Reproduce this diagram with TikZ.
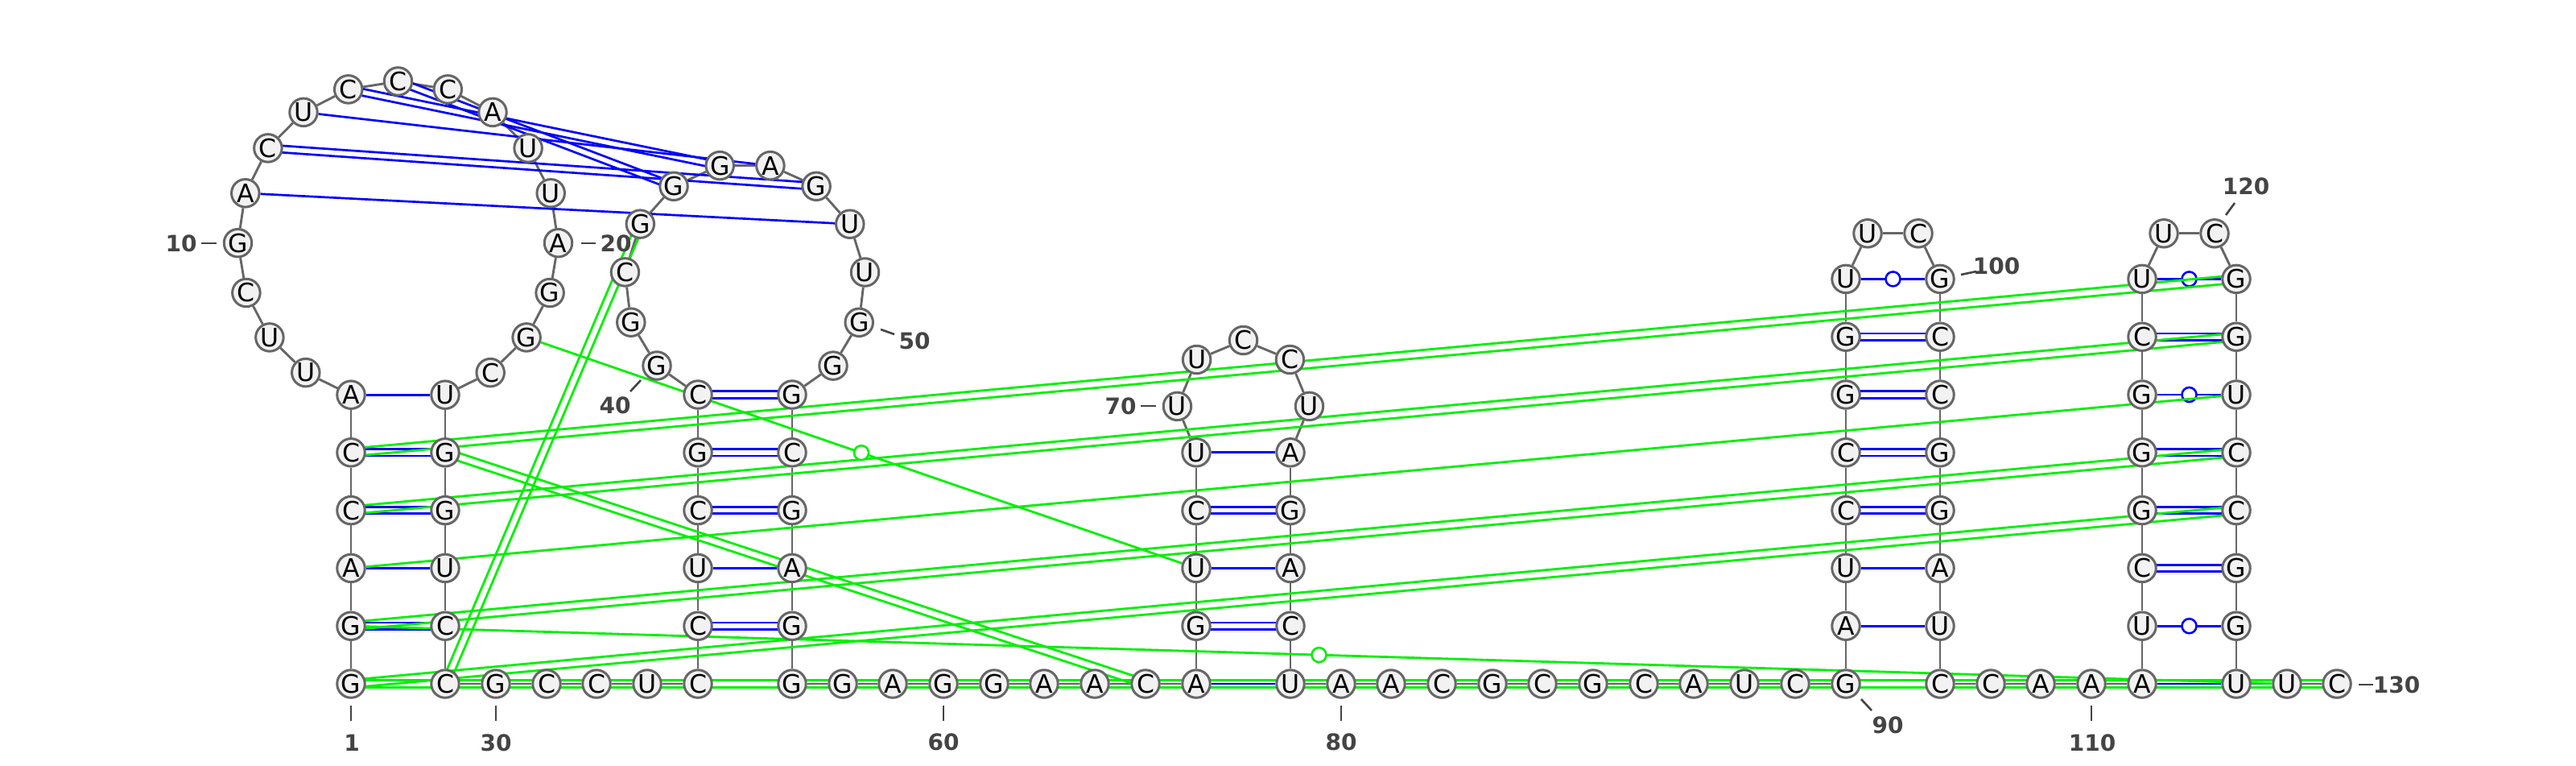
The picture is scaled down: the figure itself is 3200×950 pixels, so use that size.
\documentclass[tikz,border=0pt]{standalone}
\usepackage{fontspec}
\newfontfamily\ntfont{DejaVu Sans}
\newfontfamily\labfont{DejaVu Sans}
\usetikzlibrary{calc}
\pgfdeclarelayer{bg}
\pgfsetlayers{bg,main}
\definecolor{ntfill}{HTML}{F2F2F2}
\definecolor{ntdraw}{HTML}{666666}
\definecolor{bbc}{HTML}{666666}
\definecolor{pblue}{HTML}{0000FF}
\definecolor{pgreen}{HTML}{00F000}
\definecolor{labc}{HTML}{444444}
\tikzset{
  nt/.style={circle, draw=ntdraw, fill=ntfill, line width=3pt, minimum size=34.5pt, inner sep=0pt, font=\ntfont\fontsize{31.5}{31.5}\selectfont},
  bbone/.style={draw=bbc, line width=2.9pt},
  bpair/.style={draw=pblue, line width=2.7pt},
  gpair/.style={draw=pgreen, line width=2.8pt},
  wob/.style={circle, fill=white, line width=2.6pt, minimum size=18pt, inner sep=0pt},
  lab/.style={font=\labfont\bfseries\fontsize{28}{28}\selectfont, text=labc, inner sep=0pt},
  tickl/.style={draw=labc, line width=2.6pt},
}
\newcommand\twolines[4]{%
  \draw[#1] ($(#2)!#4!90:(#3)$) -- ($(#3)!#4!-90:(#2)$);
  \draw[#1] ($(#2)!#4!-90:(#3)$) -- ($(#3)!#4!90:(#2)$);}
\newcommand\bdbl[2]{\twolines{bpair}{#1}{#2}{4.2pt}}
\newcommand\gdbl[2]{\twolines{gpair}{#1}{#2}{4.8pt}}
\begin{document}
\begin{tikzpicture}[x=1pt,y=-1pt]
\useasboundingbox (0,0) rectangle (3200,950);
% nucleotides
\foreach \i/\x/\y/\b in {
1/436/849/G, 2/436/777.2/G, 3/436/705.4/A, 4/436/633.6/C, 5/436/561.8/C, 6/436/490.2/A,
7/379.8/462.6/U, 8/334.9/418.9/U, 9/305.9/363.5/C, 10/295.5/301.7/G, 11/304.8/239.8/A,
12/332.9/183.9/C, 13/377.0/139.4/U, 14/432.7/110.9/C, 15/494.5/101/C, 16/556.3/110.9/C,
17/612.0/139.4/A, 18/656.1/183.9/U, 19/684.2/239.8/U, 20/693.5/301.7/A, 21/683.1/363.5/G,
22/654.1/418.9/G, 23/609.2/462.6/C, 24/553/490.2/U, 25/553/561.8/G, 26/553/633.6/G,
27/553/705.4/U, 28/553/777.2/C, 29/553/849/C, 30/616/849/G, 31/679/849/C, 32/741/849/C,
33/804/849/U, 34/867/849/C, 35/867/777.2/C, 36/867/705.4/U, 37/867/633.6/C, 38/867/561.8/G,
39/867/490/C, 40/816/454/G, 41/783.8/400.2/G, 42/776.4/337.9/C, 43/795.3/278.1/G,
44/837/231.3/G, 45/894.2/205.6/G, 46/956.9/205.6/A, 47/1014.1/231.3/G, 48/1055.8/278.2/U,
49/1074.5/338/U, 50/1067.2/400.3/G, 51/1035/454.1/G, 52/984/490/G, 53/984/561.8/C,
54/984/633.6/G, 55/984/705.4/A, 56/984/777.2/G, 57/984/849/G, 58/1047/849/G, 59/1109/849/A,
60/1172/849/G, 61/1235/849/G, 62/1297/849/A, 63/1360/849/A, 64/1423/849/C, 65/1486/849/A,
66/1486/777.2/G, 67/1486/705.4/U, 68/1486/633.6/C, 69/1486/561.8/U, 70/1462.5/504.4/U,
71/1486.6/446.5/U, 72/1544.5/422.5/C, 73/1602.4/446.5/C, 74/1626.5/504.4/U, 75/1603/561.8/A,
76/1603/633.6/G, 77/1603/705.4/A, 78/1603/777.2/C, 79/1603/849/U, 80/1666/849/A, 81/1728/849/A,
82/1791/849/C, 83/1854/849/G, 84/1916/849/C, 85/1979/849/G, 86/2042/849/C, 87/2104/849/A,
88/2167/849/U, 89/2230/849/C, 90/2293/849/G, 91/2293/777.2/A, 92/2293/705.4/U, 93/2293/633.6/C,
94/2293/561.8/C, 95/2293/490/G, 96/2293/418.2/G, 97/2293/346.4/U, 98/2320/289.8/U, 99/2383/289.8/C,
100/2410/346.4/G, 101/2410/418.2/C, 102/2410/490/C, 103/2410/561.8/G, 104/2410/633.6/G,
105/2410/705.4/A, 106/2410/777.2/U, 107/2410/849/C, 108/2473/849/C, 109/2535/849/A, 110/2598/849/A,
111/2661/849/A, 112/2661/777.2/U, 113/2661/705.4/C, 114/2661/633.6/G, 115/2661/561.8/G,
116/2661/490/G, 117/2661/418.2/C, 118/2661/346.4/U, 119/2688/289.8/U, 120/2751/289.8/C,
121/2778/346.4/G, 122/2778/418.2/G, 123/2778/490/U, 124/2778/561.8/C, 125/2778/633.6/C,
126/2778/705.4/G, 127/2778/777.2/G, 128/2778/849/U, 129/2841/849/U, 130/2903/849/C}
  \node[nt] (n\i) at (\x,\y) {\b};
\begin{pgfonlayer}{bg}
% backbone
\foreach \i [evaluate=\i as \j using int(\i+1)] in {1,...,129}
  \draw[bbone] (n\i) -- (n\j);
% blue pairs
\foreach \a/\b in {3/27, 6/24, 11/48, 13/46, 36/55, 65/79, 67/77, 69/75, 91/106, 92/105, 111/128}
  \draw[bpair] (n\a) -- (n\b);
\foreach \a/\b in {2/28, 4/26, 5/25, 12/47, 14/45, 15/44, 35/56, 37/54, 38/53, 39/52, 66/78, 68/76,
  93/104, 94/103, 95/102, 96/101, 113/126, 114/125, 115/124, 117/122}
  {\bdbl{n\a}{n\b}}
\foreach \a/\b in {97/100, 112/127, 116/123, 118/121}
  \draw[bpair] (n\a) -- node[wob, draw=pblue] {} (n\b);
% green pairs
\foreach \a/\b in {5/121, 4/122, 2/124, 1/125, 1/130, 25/64, 29/43}
  {\gdbl{n\a}{n\b}}
\draw[gpair] (n3) -- (n123);
\draw[gpair] (n22) -- node[wob, draw=pgreen] {} (n67);
\draw[gpair] (n2) -- node[wob, draw=pgreen] {} (n129);
\end{pgfonlayer}
% numbering
\foreach \k/\ax/\ay/\bx/\by/\lx/\ly/\t in {
  a/436/876/436/895/437/922/1,
  b/250/302/269/302/225/302/10,
  c/722/302/740/302/765/302/20,
  d/616/876/616/895/616/922/30,
  e/796/472/783/486/764/503/40,
  f/1094/409/1111/415/1136/423/50,
  g/1172/876/1172/895/1172/921/60,
  h/1417/504/1436/504/1392/504/70,
  i/1666/876/1666/895/1666/921/80,
  j/2312/868/2325/882/2345/900/90,
  k/2436/341/2455/337/2480/330/100,
  l/2598/876/2598/895/2599/922/110,
  m/2765/267/2776/252/2790/231/120,
  o/2930/850/2948/850/2977/850/130}
{
  \coordinate (t\k1) at (\ax,\ay);
  \coordinate (t\k2) at (\bx,\by);
  \draw[tickl] (t\k1) -- (t\k2);
  \node[lab] (lab\k) at (\lx,\ly) {\t};
}
\end{tikzpicture}
\end{document}
